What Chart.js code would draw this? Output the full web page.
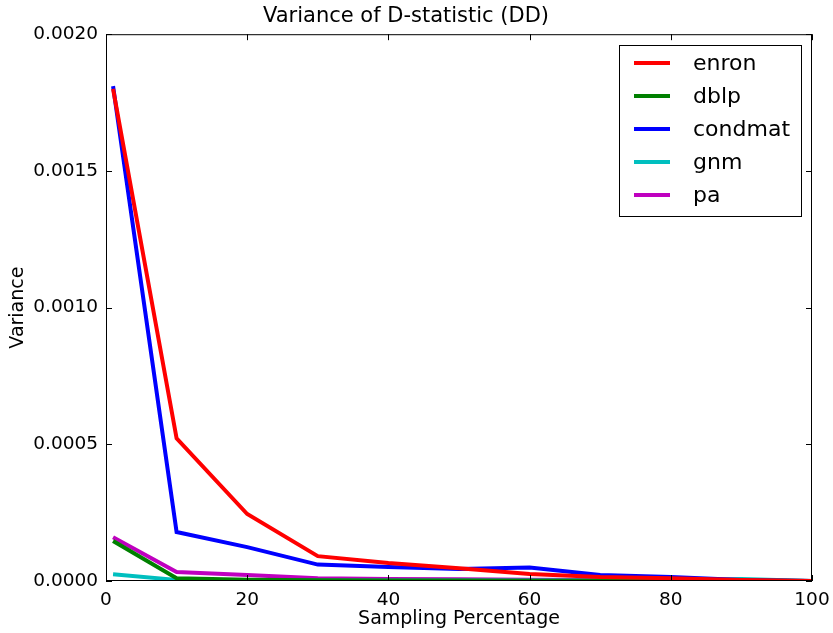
<!DOCTYPE html>
<html>
<head>
<meta charset="utf-8">
<script src="https://cdn.jsdelivr.net/npm/chart.js@4"></script>
<style>
  body { margin: 0; background: #fff; }
  #wrap { width: 833px; height: 633px; }
</style>
</head>
<body>
<div id="wrap"><canvas id="varianceChart"></canvas></div>
<script>
// sampling percentage on the x axis
const samplePct = [1, 10, 20, 30, 40, 50, 60, 70, 80, 90, 100];

const enron   = [0.00180, 0.000522, 0.000245, 0.000091, 0.000066, 0.000047, 0.000026, 0.000015, 0.000010, 0.000004, 0];
const dblp    = [0.000146, 0.000010, 0.000005, 0.000003, 0.000002, 0.000002, 0.000001, 0.000001, 0.000001, 0.000001, 0];
const condmat = [0.00181, 0.000179, 0.000124, 0.000060, 0.000051, 0.000044, 0.000049, 0.000022, 0.000015, 0.000004, 0];
const gnm     = [0.000025, 0.000004, 0.000003, 0.000002, 0.000002, 0.000002, 0.000002, 0.000002, 0.000002, 0.000007, 0];
const pa      = [0.000160, 0.000033, 0.000022, 0.000010, 0.000007, 0.000006, 0.000005, 0.000004, 0.000003, 0.000002, 0];

const xTicks = [0, 20, 40, 60, 80, 100];
const yTicks = [0, 0.0005, 0.0010, 0.0015, 0.0020];

const FONT = 'DejaVu Sans';

function pts(arr) {
  return arr.map((v, i) => ({ x: samplePct[i], y: v }));
}

// matplotlib style frame + inward ticks on all four sides
const frameTicks = {
  id: 'frameTicks',
  afterDraw(chart) {
    const { ctx, chartArea: a, scales } = chart;
    ctx.save();
    ctx.strokeStyle = '#000';
    ctx.lineWidth = 1;
    ctx.strokeRect(a.left + 0.5, a.top + 0.5, a.right - a.left - 1, a.bottom - a.top - 1);
    ctx.beginPath();
    xTicks.forEach(t => {
      const px = Math.round(scales.x.getPixelForValue(t)) + 0.5;
      ctx.moveTo(px, a.bottom); ctx.lineTo(px, a.bottom - 6);
      ctx.moveTo(px, a.top); ctx.lineTo(px, a.top + 6);
    });
    yTicks.forEach(t => {
      const py = Math.round(scales.y.getPixelForValue(t)) + 0.5;
      ctx.moveTo(a.left, py); ctx.lineTo(a.left + 6, py);
      ctx.moveTo(a.right, py); ctx.lineTo(a.right - 6, py);
    });
    ctx.stroke();
    ctx.restore();
  }
};

// legend box in the top right corner of the plot
const boxLegend = {
  id: 'boxLegend',
  afterDraw(chart) {
    const { ctx } = chart;
    const x0 = 619, y0 = 45, w = 182, h = 171;
    ctx.save();
    ctx.fillStyle = '#fff';
    ctx.fillRect(x0, y0, w, h);
    ctx.strokeStyle = '#000';
    ctx.lineWidth = 1;
    ctx.strokeRect(x0 + 0.5, y0 + 0.5, w, h);
    ctx.font = '22px ' + FONT;
    ctx.textBaseline = 'middle';
    chart.data.datasets.forEach((ds, i) => {
      const y = 63 + i * 33;
      ctx.strokeStyle = ds.borderColor;
      ctx.lineWidth = 4;
      ctx.beginPath();
      ctx.moveTo(634, y); ctx.lineTo(670, y);
      ctx.stroke();
      ctx.fillStyle = '#000';
      ctx.fillText(ds.label, 693, y + 1);
    });
    ctx.restore();
  }
};

new Chart(document.getElementById('varianceChart'), {
  type: 'line',
  data: {
    datasets: [
      { label: 'enron',   borderColor: '#ff0000', data: pts(enron) },
      { label: 'dblp',    borderColor: '#008000', data: pts(dblp) },
      { label: 'condmat', borderColor: '#0000ff', data: pts(condmat) },
      { label: 'gnm',     borderColor: '#00bfbf', data: pts(gnm) },
      { label: 'pa',      borderColor: '#bf00bf', data: pts(pa) }
    ]
  },
  options: {
    responsive: true,
    maintainAspectRatio: false,
    animation: false,
    layout: { padding: { top: 0, right: 21, bottom: 0, left: 0 } },
    elements: {
      line: { borderWidth: 4, tension: 0, fill: false },
      point: { radius: 0 }
    },
    plugins: {
      legend: { display: false },
      tooltip: { enabled: false },
      title: {
        display: true,
        text: 'Variance of D-statistic (DD)',
        color: '#000',
        font: { family: FONT, size: 21, weight: 'normal' },
        padding: { top: 4, bottom: 5 }
      }
    },
    scales: {
      x: {
        type: 'linear',
        min: 0, max: 100,
        afterBuildTicks(s) { s.ticks = xTicks.map(v => ({ value: v })); },
        afterFit(s) { s.height = 52; },
        grid: { display: false },
        border: { display: false },
        ticks: { color: '#000', padding: 0, maxRotation: 0, font: { family: FONT, size: 18.5 } },
        title: {
          display: true, text: 'Sampling Percentage', color: '#000',
          font: { family: FONT, size: 19 }, padding: { top: 0, bottom: 3 }
        }
      },
      y: {
        min: 0, max: 0.002,
        afterBuildTicks(s) { s.ticks = yTicks.map(v => ({ value: v })); },
        afterFit(s) { s.width = 106; },
        grid: { display: false },
        border: { display: false },
        ticks: {
          color: '#000', padding: 0,
          font: { family: FONT, size: 18.5 },
          callback: v => v.toFixed(4)
        },
        title: {
          display: true, text: 'Variance', color: '#000',
          font: { family: FONT, size: 19 }, padding: { top: 7, bottom: 0 }
        }
      }
    }
  },
  plugins: [frameTicks, boxLegend]
});
</script>
</body>
</html>
